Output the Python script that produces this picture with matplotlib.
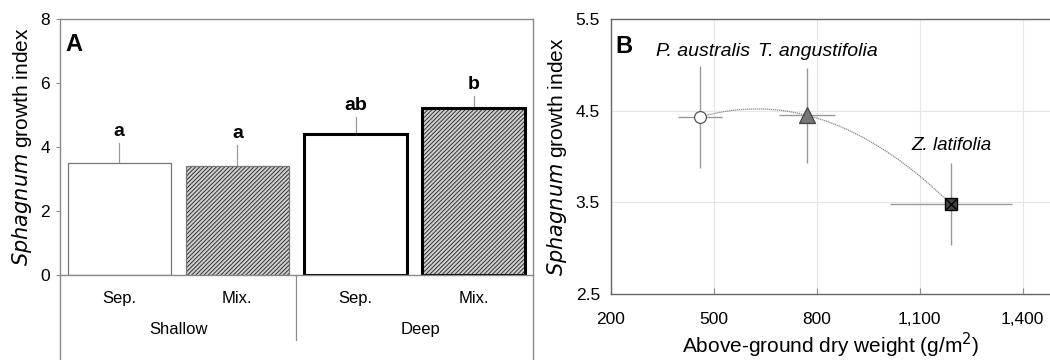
import numpy as np
import matplotlib
matplotlib.use('Agg')
from matplotlib import pyplot as plt

plt.rcParams['font.family'] = ['Liberation Sans', 'DejaVu Sans']
plt.rcParams['hatch.linewidth'] = 0.7

# Panel A data
bar_labels = ['Sep.', 'Mix.', 'Sep.', 'Mix.']
depth_labels = ['Shallow', 'Deep']
bar_means = [3.50, 3.40, 4.42, 5.22]
bar_errs = [0.63, 0.66, 0.52, 0.38]
bar_letters = ['a', 'a', 'ab', 'b']

# Panel B data
species = ['P. australis', 'T. angustifolia', 'Z. latifolia']
dry_weight = [459, 771, 1191]
dry_weight_err = [65, 82, 177]
growth_index = [4.43, 4.45, 3.48]
growth_index_err = [0.56, 0.52, 0.45]

fig = plt.figure(figsize=(10.5, 3.6), dpi=100)
axA = fig.add_axes([0.0571, 0.2361, 0.4505, 0.7111])
axB = fig.add_axes([0.5819, 0.1833, 0.4181, 0.7639])

spine_col = '#8a8a8a'

# ---- Panel A ----
x = np.arange(len(bar_means))
for i, (m, e) in enumerate(zip(bar_means, bar_errs)):
    deep = i >= 2
    mix = i % 2 == 1
    axA.bar(x[i], m, width=0.87, facecolor='#d0d0d0' if mix else 'white',
            edgecolor='black' if deep else '#777777',
            linewidth=2.2 if deep else 0.9,
            hatch='////////' if mix else None, zorder=2)
    axA.plot([x[i], x[i]], [m, m + e], color='#999999', lw=0.9, zorder=1)
    axA.text(x[i], m + e + 0.1, bar_letters[i], ha='center', va='bottom',
             fontsize=14, fontweight='bold')
for bar in axA.patches:
    if bar.get_hatch():
        bar._hatch_color = matplotlib.colors.to_rgba('#333333')

axA.set_xlim(-0.5, 3.5)
axA.set_ylim(0, 8)
axA.set_yticks([0, 2, 4, 6, 8])
axA.set_xticks([])
axA.tick_params(axis='y', labelsize=12.5, length=3, color=spine_col, pad=4)
for s in axA.spines.values():
    s.set_color(spine_col)
    s.set_linewidth(1.0)
axA.set_ylabel(r'$\it{Sphagnum}$ growth index', fontsize=15, labelpad=5)

# extend frame below the axis for the category table
for xa in (0, 1):
    axA.plot([xa, xa], [0, -0.35], transform=axA.transAxes, color=spine_col,
             lw=1.0, clip_on=False)
axA.plot([1.5, 1.5], [0, -2.03], color=spine_col, lw=0.9, clip_on=False)
for i, lab in enumerate(bar_labels):
    axA.text(x[i], -0.72, lab, ha='center', va='center', fontsize=12)
for j, lab in enumerate(depth_labels):
    axA.text(0.5 + 2 * j + (0.0 if j == 0 else 0.05), -1.69, lab,
             ha='center', va='center', fontsize=12)
axA.text(0.012, 0.9, 'A', transform=axA.transAxes, fontsize=17,
         fontweight='bold', va='center')

# ---- Panel B ----
axB.set_xlim(200, 1480)
axB.set_ylim(2.5, 5.5)
axB.set_xticks([200, 500, 800, 1100, 1400])
axB.set_xticklabels(['200', '500', '800', '1,100', '1,400'])
axB.set_yticks([2.5, 3.5, 4.5, 5.5])
axB.set_yticklabels(['2.5', '3.5', '4.5', '5.5'])
axB.grid(True, color='#e6e6e6', lw=0.8)
axB.set_axisbelow(True)
axB.tick_params(axis='x', direction='in', length=4, color=spine_col,
                labelsize=12.5, pad=13)
axB.tick_params(axis='y', length=0, labelsize=12.5, pad=8)
axB.spines['right'].set_visible(False)
for s in ['left', 'top', 'bottom']:
    axB.spines[s].set_color('#666666')
    axB.spines[s].set_linewidth(1.0)

# quadratic trend through the three species
coef = np.polyfit(dry_weight, growth_index, 2)
xs = np.linspace(dry_weight[0], dry_weight[-1], 200)
axB.plot(xs, np.polyval(coef, xs), color='#888888', lw=0.9, ls=(0, (1, 0.6)),
         zorder=2)

axB.errorbar(dry_weight, growth_index, xerr=dry_weight_err,
             yerr=growth_index_err, fmt='none', ecolor='#999999',
             elinewidth=1.0, capsize=0, zorder=3)
axB.plot(dry_weight[0], growth_index[0], 'o', ms=8.5, mfc='white',
         mec='#555555', mew=0.9, zorder=4)
axB.plot(dry_weight[1], growth_index[1], '^', ms=11, mfc='#777777',
         mec='#444444', mew=0.9, zorder=4)
axB.plot(dry_weight[2], growth_index[2], 's', ms=9, mfc='#444444',
         mec='black', mew=1.0, zorder=4)
axB.plot(dry_weight[2], growth_index[2], 'x', ms=8, mec='black', mew=1.0,
         zorder=5)

axB.text(330, 5.15, species[0], fontsize=14, style='italic', va='center')
axB.text(629, 5.15, species[1], fontsize=14, style='italic', va='center')
axB.text(1077, 4.12, species[2], fontsize=13.5, style='italic', va='center')
axB.text(0.01, 0.9, 'B', transform=axB.transAxes, fontsize=17,
         fontweight='bold', va='center')
axB.set_ylabel(r'$\it{Sphagnum}$ growth index', fontsize=15, labelpad=5)
axB.set_xlabel('Above-ground dry weight (g/m$^2$)', fontsize=15, labelpad=3)

fig.savefig('out.png', dpi=100)
